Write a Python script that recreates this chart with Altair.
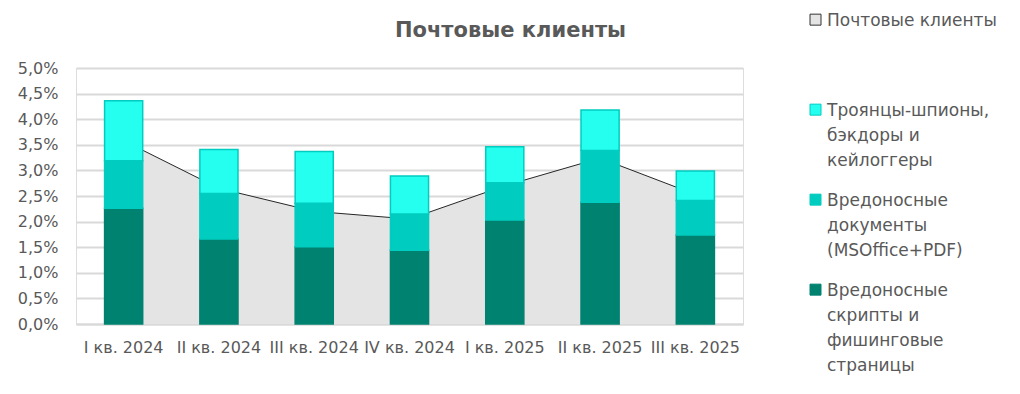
import json
import altair as alt
import pandas as pd

# ---- data ----
quarters = ["I кв. 2024", "II кв. 2024", "III кв. 2024", "IV кв. 2024",
            "I кв. 2025", "II кв. 2025", "III кв. 2025"]
mail_clients = [3.58, 2.65, 2.20, 2.05, 2.70, 3.24, 2.53]
scripts = [2.26, 1.66, 1.51, 1.44, 2.03, 2.38, 1.74]
documents = [0.93, 0.89, 0.85, 0.71, 0.73, 1.01, 0.67]
trojans = [1.17, 0.86, 1.01, 0.74, 0.70, 0.79, 0.58]

series_names = ["Почтовые клиенты",
                "Троянцы-шпионы, бэкдоры и кейлоггеры",
                "Вредоносные документы (MSOffice+PDF)",
                "Вредоносные скрипты и фишинговые страницы"]
# label lines as wrapped in the legend (first entry padded so each slot is equal)
legend_lines = [["Почтовые клиенты", "", ""],
                ["Троянцы-шпионы,", "бэкдоры и", "кейлоггеры"],
                ["Вредоносные", "документы", "(MSOffice+PDF)"],
                ["Вредоносные", "скрипты и", "фишинговые", "страницы"]]
y_ticks = [0, 0.5, 1, 1.5, 2, 2.5, 3, 3.5, 4, 4.5, 5]

fill_colors = ["#E4E4E4", "#25FFF0", "#00CCBF", "#008270"]
stroke_colors = ["#333333", "#00CCBF", "#00CCBF", "#008270"]

TEXT = "#595959"
FONT = "DejaVu Sans"

area_df = pd.DataFrame({"quarter": quarters, "value": mail_clients})
rows = []
stack_series = [(series_names[3], scripts), (series_names[2], documents), (series_names[1], trojans)]
for i, q in enumerate(quarters):
    for k, (name, vals) in enumerate(stack_series):
        rows.append({"quarter": q, "series": name, "value": vals[i], "order": k})
bar_df = pd.DataFrame(rows)

# legend label expression for multi-line labels
expr = "datum.label"
for name, lines in reversed(list(zip(series_names, legend_lines))):
    expr = f"datum.label == {json.dumps(name, ensure_ascii=False)} ? {json.dumps(lines, ensure_ascii=False)} : ({expr})"

x_axis = alt.Axis(title=None, labelAngle=0, ticks=False, domainColor="#D9D9D9",
                  domainWidth=2, labelPadding=15, labelFontSize=16, labelColor=TEXT,
                  labelFont=FONT, grid=False)
x_scale = alt.Scale(paddingInner=0.6, paddingOuter=0.3)
y_scale = alt.Scale(domain=[0, 5], nice=False)
y_axis = alt.Axis(title=None, values=y_ticks,
                  labelExpr="replace(format(datum.value, '.1f'), '.', ',') + '%'",
                  grid=True, gridColor="#D9D9D9", gridWidth=2, domain=False, ticks=False,
                  labelPadding=18, labelFontSize=16, labelColor=TEXT, labelFont=FONT)

area = alt.Chart(area_df).mark_area(color="#E4E4E4").encode(
    x=alt.X("quarter:N", sort=quarters, scale=x_scale, axis=x_axis, bandPosition=0.5),
    y=alt.Y("value:Q", scale=y_scale, axis=y_axis, stack=None),
)
line = alt.Chart(area_df).mark_line(color="#262626", strokeWidth=1).encode(
    x=alt.X("quarter:N", sort=quarters, scale=x_scale, axis=x_axis, bandPosition=0.5),
    y=alt.Y("value:Q", scale=y_scale, axis=y_axis, stack=None),
)

# square symbol drawn a little lower so it sits beside the first text line
legend = alt.Legend(orient="none", legendX=731, legendY=-64, title=None,
                    symbolType="M-1,0.3H1V2.3H-1Z", symbolSize=121, symbolStrokeWidth=1,
                    labelFontSize=17, labelFont=FONT, labelColor=TEXT, labelLimit=400,
                    labelExpr=expr, labelBaseline="top", gridAlign="each",
                    rowPadding=15, labelOffset=3, padding=0)

bars = alt.Chart(bar_df).mark_bar(strokeWidth=1.5).encode(
    x=alt.X("quarter:N", sort=quarters, scale=x_scale, axis=x_axis),
    y=alt.Y("value:Q", scale=y_scale, axis=y_axis, stack="zero"),
    fill=alt.Fill("series:N", scale=alt.Scale(domain=series_names, range=fill_colors), legend=legend),
    stroke=alt.Stroke("series:N", scale=alt.Scale(domain=series_names, range=stroke_colors), legend=legend),
    order=alt.Order("order:Q"),
)

chart = alt.layer(area, line, bars).properties(
    width=667, height=256,
    autosize=alt.AutoSizeParams(type="none"),
    padding={"left": 68, "top": 60, "right": 269, "bottom": 62},
    background="white",
    title=alt.TitleParams("Почтовые клиенты", font=FONT, fontSize=21, fontWeight="bold",
                          color=TEXT, anchor="middle", frame="group", dx=101, offset=-54,
                          baseline="alphabetic"),
).configure_view(stroke=None).configure(style={"guide-label": {"lineHeight": 25}})

chart.save("out.html", embed_options={"renderer": "svg", "actions": False})
